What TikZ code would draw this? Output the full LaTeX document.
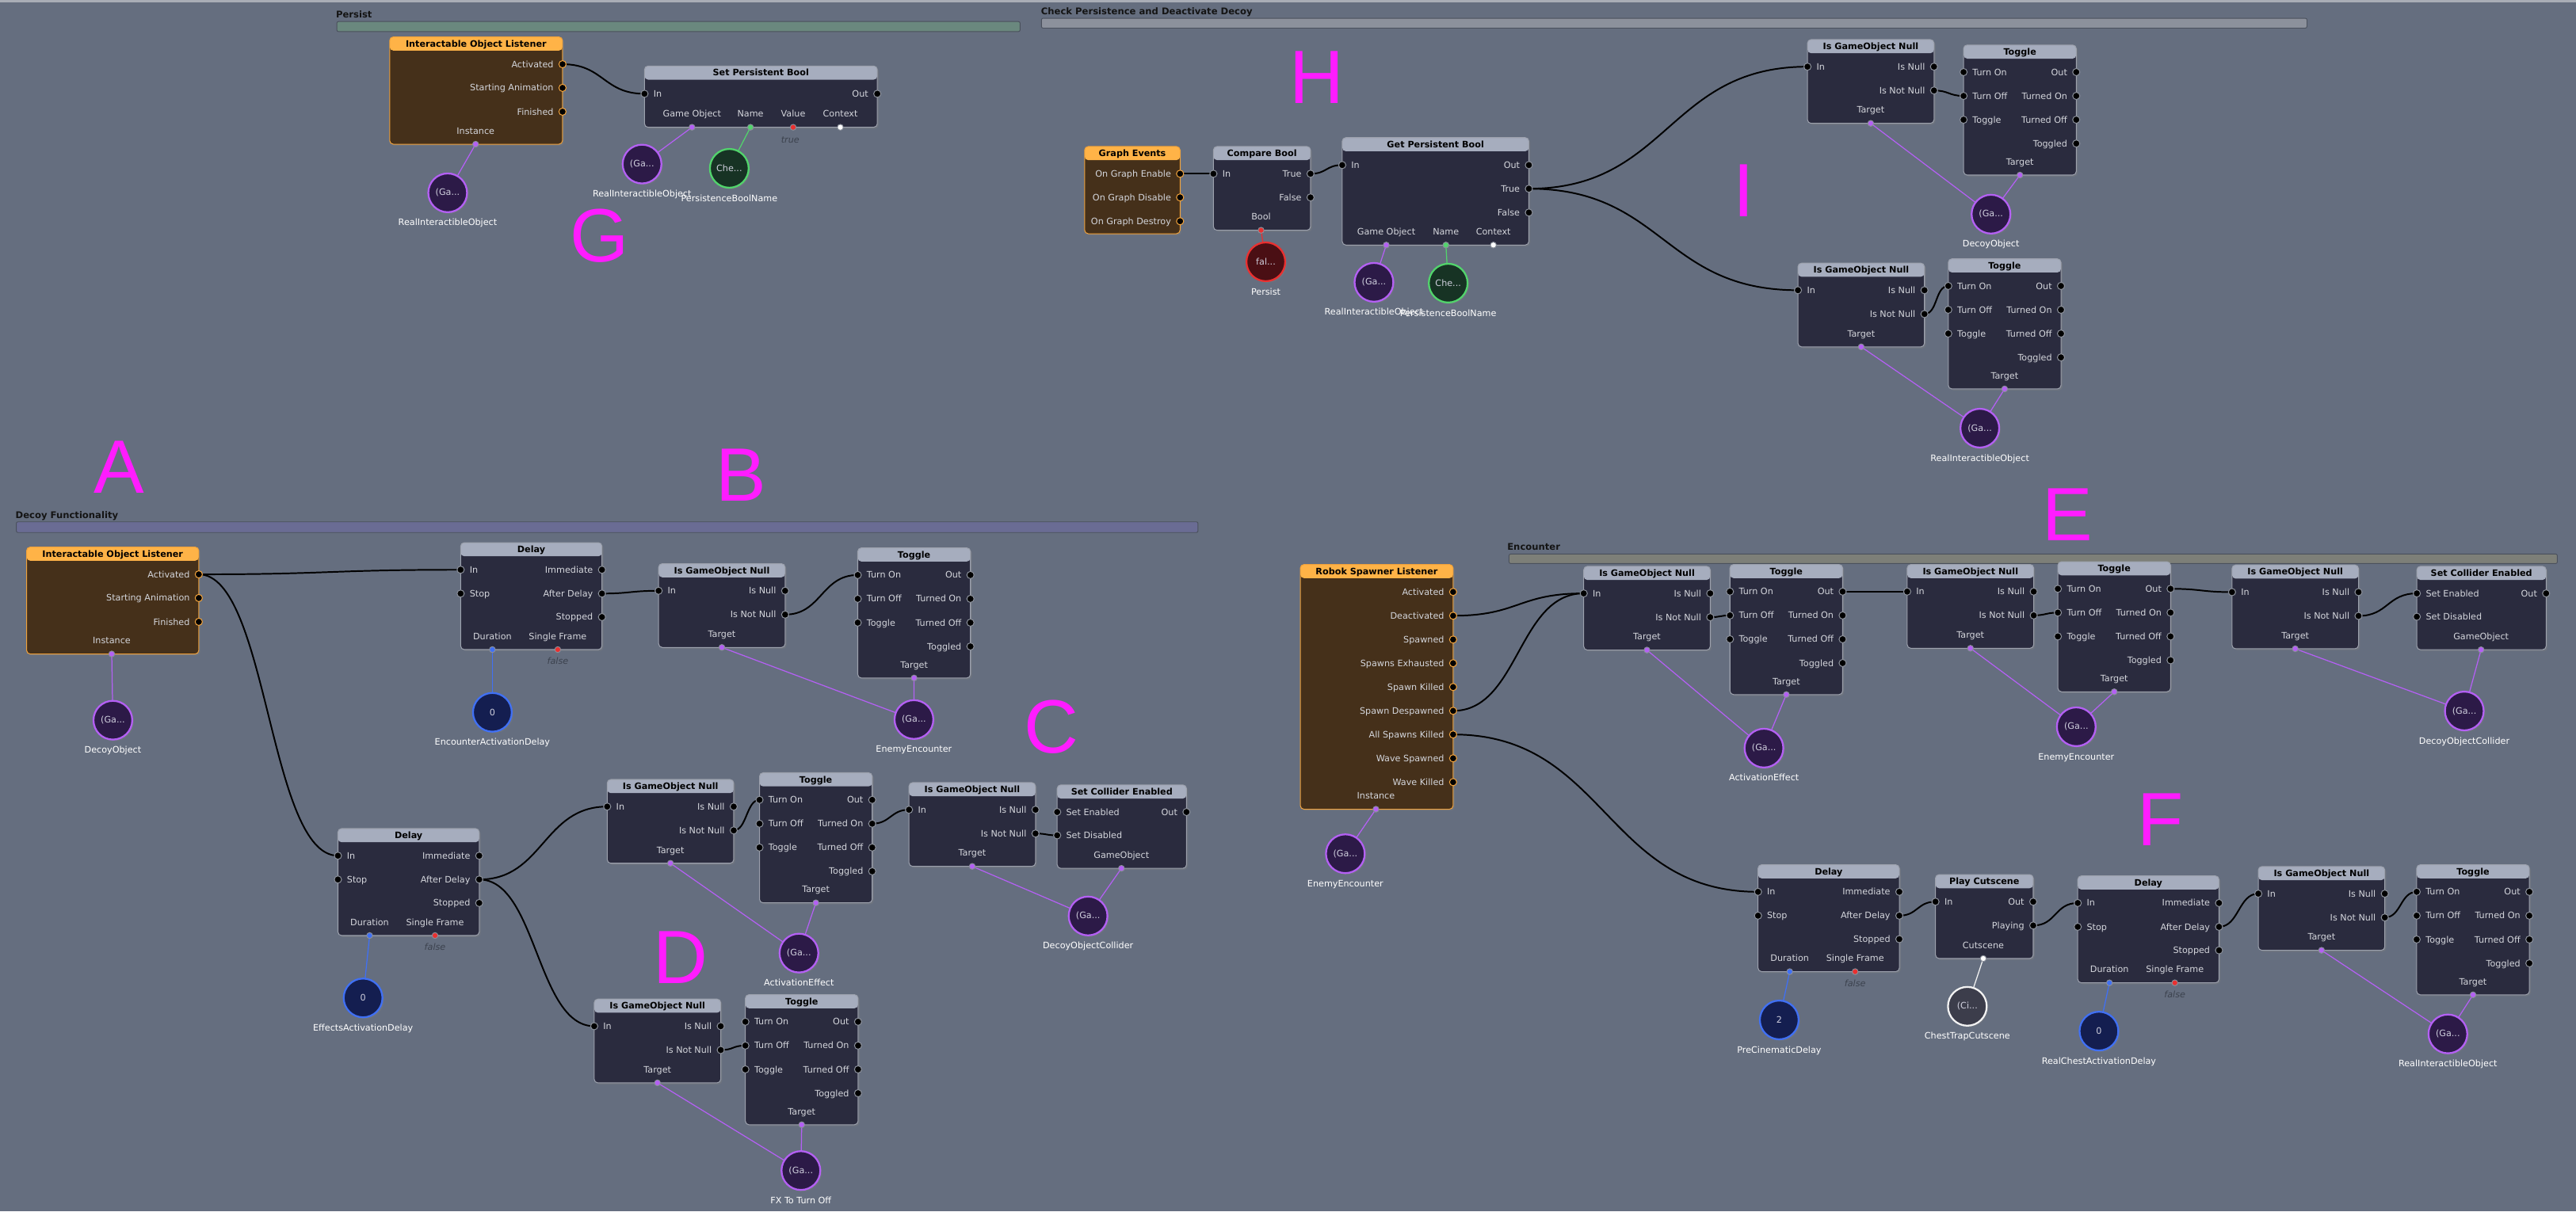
\documentclass[tikz,border=0pt]{standalone}
\usepackage{fontspec}
\setmainfont{DejaVu Sans}
\newfontfamily\magfont{Liberation Sans}
\usetikzlibrary{shadows}
\pgfdeclarelayer{back}
\pgfdeclarelayer{wires}
\pgfsetlayers{back,wires,main}
\definecolor{bgc}{HTML}{656E7F}
\definecolor{topc}{HTML}{A9ADB6}
\definecolor{hdr}{HTML}{A6ADBE}
\definecolor{body}{HTML}{2A2B3E}
\definecolor{boxln}{HTML}{9CA1AD}
\definecolor{evhdr}{HTML}{FFB347}
\definecolor{evbody}{HTML}{45301A}
\definecolor{evln}{HTML}{F0A23C}
\definecolor{ptext}{HTML}{D4D6DC}
\definecolor{portring}{HTML}{8A8F9A}
\definecolor{purp}{HTML}{B460F4}
\definecolor{purpf}{HTML}{2C1A47}
\definecolor{blu}{HTML}{4070F4}
\definecolor{bluf}{HTML}{141E50}
\definecolor{redc}{HTML}{EA3030}
\definecolor{redf}{HTML}{4A0F14}
\definecolor{grn}{HTML}{52D46C}
\definecolor{grnf}{HTML}{173324}
\definecolor{whc}{HTML}{F2F2F2}
\definecolor{whf}{HTML}{3C3D4B}
\definecolor{vtext}{HTML}{CFCFDD}
\definecolor{flsc}{HTML}{3C424E}
\definecolor{barP}{HTML}{6A887E}
\definecolor{barC}{HTML}{8C919C}
\definecolor{barD}{HTML}{6A6C94}
\definecolor{barE}{HTML}{7D7F78}
\definecolor{barln}{HTML}{4A505C}
\definecolor{mag}{HTML}{FF1CFF}
\newcommand\fs{\fontsize{5.4}{6.4}\selectfont}
\tikzset{
 boxbase/.style={anchor=north west, line width=0.5pt, rounded corners=2.2pt, inner sep=0pt, outer sep=0pt,
   drop shadow={shadow xshift=0.9pt, shadow yshift=-0.9pt, opacity=0.35}},
 gbox/.style={boxbase, draw=boxln, fill=body,
   path picture={\fill[hdr] (path picture bounding box.north west) rectangle ([yshift=-8.3pt]path picture bounding box.north east);}},
 ebox/.style={boxbase, draw=evln, fill=evbody,
   path picture={\fill[evhdr] (path picture bounding box.north west) rectangle ([yshift=-8.3pt]path picture bounding box.north east);}},
 ttl/.style={anchor=base, yshift=-6.1pt, font=\fs\bfseries, text=black, inner sep=0pt},
 plab/.style={font=\fs, text=ptext, inner sep=0pt, text height=3.9pt, text depth=0pt},
 port/.style={circle, fill=black, draw=portring, line width=0.5pt, minimum size=4.4pt, inner sep=0pt},
 eport/.style={port, draw=evln},
 dport/.style={circle, draw=portring, line width=0.45pt, minimum size=3.6pt, inner sep=0pt},
 var/.style={circle, minimum size=23.6pt, inner sep=0pt, line width=1.1pt, font=\fs, text=vtext,
   drop shadow={shadow xshift=0.9pt, shadow yshift=-0.9pt, opacity=0.35}},
 vp/.style={var, draw=purp, fill=purpf},
 vb/.style={var, draw=blu, fill=bluf},
 vr/.style={var, draw=redc, fill=redf},
 vg/.style={var, draw=grn, fill=grnf},
 vw/.style={var, draw=whc, fill=whf},
 vlab/.style={font=\fs, text=white, inner sep=0pt, text height=3.9pt, text depth=0pt},
 fls/.style={font=\fs\itshape, text=flsc, inner sep=0pt, text height=3.9pt, text depth=0pt},
 glab/.style={anchor=west, font=\fontsize{5.6}{6.6}\selectfont\bfseries, text=black!92, inner sep=0pt, text height=4pt, text depth=0pt},
 bar/.style={anchor=north west, draw=barln, line width=0.45pt, rounded corners=1pt, inner sep=0pt},
 letter/.style={anchor=base, font=\magfont\fontsize{46}{46}\selectfont, text=mag, inner sep=0pt},
 flow/.style={draw=black, line width=0.95pt},
 dw/.style={draw=#1, line width=0.6pt}
}
\newcommand\xGB[7]{\node[#1, minimum width=#5pt, minimum height=#6pt, label={[ttl]north:#7}] (#2) at (#3,#4) {};}
\newcommand\xPL[4]{\node[port] (#1) at (#2,#3) {}; \node[plab,anchor=west] (#1-t) at (#2+5.3,#3) {#4};}
\newcommand\xPR[4]{\node[port] (#1) at (#2,#3) {}; \node[plab,anchor=east] (#1-t) at (#2-5.3,#3) {#4};}
\newcommand\xPE[4]{\node[eport] (#1) at (#2,#3) {}; \node[plab,anchor=east] (#1-t) at (#2-5.3,#3) {#4};}
\newcommand\xPB[5]{\node[dport,fill=#5] (#1) at (#2,#3) {}; \node[plab] (#1-t) at (#2,#3-8.1) {#4};}
\newcommand\xVR[6]{\node[#2] (#1) at (#3,#4) {#5}; \node[vlab] (#1-t) at (#3,#4+18.1) {#6};}
\newcommand\xIsNull[3]{%
 \xGB{gbox}{#1}{#2}{#3}{77}{51}{Is GameObject Null}
 \xPL{#1-in}{#2}{#3+16.5}{In}
 \xPR{#1-null}{#2+77}{#3+16.5}{Is Null}
 \xPR{#1-nn}{#2+77}{#3+31}{Is Not Null}
 \xPB{#1-tgt}{#2+38.5}{#3+51}{Target}{purp}}
\newcommand\xToggle[3]{%
 \xGB{gbox}{#1}{#2}{#3}{68.6}{79.2}{Toggle}
 \xPL{#1-on}{#2}{#3+16.5}{Turn On}
 \xPL{#1-off}{#2}{#3+31}{Turn Off}
 \xPL{#1-tog}{#2}{#3+45.5}{Toggle}
 \xPR{#1-out}{#2+68.6}{#3+16.5}{Out}
 \xPR{#1-ton}{#2+68.6}{#3+31}{Turned On}
 \xPR{#1-toff}{#2+68.6}{#3+45.5}{Turned Off}
 \xPR{#1-tgd}{#2+68.6}{#3+60}{Toggled}
 \xPB{#1-tgt}{#2+34.3}{#3+79.2}{Target}{purp}}
\newcommand\xDelay[3]{%
 \xGB{gbox}{#1}{#2}{#3}{86}{65.1}{Delay}
 \xPL{#1-in}{#2}{#3+16.5}{In}
 \xPL{#1-stop}{#2}{#3+31}{Stop}
 \xPR{#1-imm}{#2+86}{#3+16.5}{Immediate}
 \xPR{#1-ad}{#2+86}{#3+31}{After Delay}
 \xPR{#1-stp}{#2+86}{#3+45.3}{Stopped}
 \xPB{#1-dur}{#2+19.3}{#3+65.1}{Duration}{blu}
 \xPB{#1-sf}{#2+59.1}{#3+65.1}{Single Frame}{redc}
 \node[fls] (#1-f) at (#2+59.1,#3+72.3) {false};}
\newcommand\xSCE[3]{%
 \xGB{gbox}{#1}{#2}{#3}{78.7}{50.8}{Set Collider Enabled}
 \xPL{#1-en}{#2}{#3+16.5}{Set Enabled}
 \xPL{#1-dis}{#2}{#3+30.7}{Set Disabled}
 \xPR{#1-out}{#2+78.7}{#3+16.5}{Out}
 \xPB{#1-go}{#2+39.1}{#3+50.8}{GameObject}{purp}}
\begin{document}
\begin{tikzpicture}[x=1pt,y=-1pt]
\begin{pgfonlayer}{back}
\fill[bgc] (0,0) rectangle (1568,737.5);
\fill[topc] (0,0) rectangle (1568,1.3);
\end{pgfonlayer}
\useasboundingbox (0,0) rectangle (1568,737.5);

% ---------------- group frames
\node[glab] (gl1) at (204.3,8.8) {Persist};
\node[bar, fill=barP, minimum width=415.9pt, minimum height=6.1pt] (gb1) at (204.8,12.9) {};
\node[glab] (gl2) at (633.5,7.1) {Check Persistence and Deactivate Decoy};
\node[bar, fill=barC, minimum width=770.3pt, minimum height=6pt] (gb2) at (633.7,10.9) {};
\node[glab] (gl3) at (9.3,313.8) {Decoy Functionality};
\node[bar, fill=barD, minimum width=719.3pt, minimum height=6.5pt] (gb3) at (9.7,317.5) {};
\node[glab] (gl4) at (917.3,333.1) {Encounter};
\node[bar, fill=barE, minimum width=638.1pt, minimum height=5.8pt] (gb4) at (918.3,337.1) {};

% ---------------- letters
\node[letter] (lA) at (72.5,300) {A};
\node[letter] (lB) at (451,305) {B};
\node[letter] (lC) at (640,458.5) {C};
\node[letter] (lD) at (414.5,598.6) {D};
\node[letter] (lE) at (1258.5,329) {E};
\node[letter] (lF) at (1315,515) {F};
\node[letter] (lG) at (365,159.5) {G};
\node[letter] (lH) at (801.5,63) {H};
\node[letter] (lI) at (1061.5,131.8) {I};

% ---------------- Persist
\xGB{ebox}{piol}{237.2}{22.5}{105.2}{65.3}{Interactable Object Listener}
\xPE{piol-act}{342.4}{39.1}{Activated}
\xPE{piol-sa}{342.4}{53.5}{Starting Animation}
\xPE{piol-fin}{342.4}{68.0}{Finished}
\xPB{piol-inst}{289.5}{87.8}{Instance}{purp}
\xGB{gbox}{spb}{392.3}{40.2}{141.7}{37.3}{Set Persistent Bool}
\xPL{spb-in}{392.3}{57.1}{In}
\xPR{spb-out}{534}{57.1}{Out}
\xPB{spb-go}{421.2}{77.5}{Game Object}{purp}
\xPB{spb-name}{456.8}{77.5}{Name}{grn}
\xPB{spb-val}{482.8}{77.5}{Value}{redc}
\xPB{spb-ctx}{511.5}{77.5}{Context}{white}
\node[fls] (spb-true) at (481,84.9) {true};
\xVR{pv1}{vp}{272.5}{117.4}{(Ga...}{RealInteractibleObject}
\xVR{pv2}{vp}{390.8}{99.9}{(Ga...}{RealInteractibleObject}
\xVR{pv3}{vg}{443.9}{102.5}{Che...}{PersistenceBoolName}

% ---------------- Check persistence
\xGB{ebox}{ge}{660.2}{89.2}{58.1}{53.1}{Graph Events}
\xPE{ge-en}{718.3}{105.8}{On Graph Enable}
\xPE{ge-dis}{718.3}{120.2}{On Graph Disable}
\xPE{ge-des}{718.3}{134.7}{On Graph Destroy}
\xGB{gbox}{cb}{738.6}{89.2}{59.1}{51}{Compare Bool}
\xPL{cb-in}{738.6}{105.8}{In}
\xPR{cb-true}{797.7}{105.8}{True}
\xPR{cb-false}{797.7}{120.2}{False}
\xPB{cb-bool}{767.6}{140.2}{Bool}{redc}
\xVR{cv1}{vr}{770.5}{159.4}{fal...}{Persist}
\xGB{gbox}{gpb}{817}{83.8}{113.6}{65.4}{Get Persistent Bool}
\xPL{gpb-in}{817}{100.5}{In}
\xPR{gpb-out}{930.6}{100.5}{Out}
\xPR{gpb-true}{930.6}{114.9}{True}
\xPR{gpb-false}{930.6}{129.4}{False}
\xPB{gpb-go}{843.8}{149.2}{Game Object}{purp}
\xPB{gpb-name}{880.1}{149.2}{Name}{grn}
\xPB{gpb-ctx}{909}{149.2}{Context}{white}
\xVR{cv2}{vp}{836.3}{171.9}{(Ga...}{RealInteractibleObject}
\xVR{cv3}{vg}{881.5}{172.4}{Che...}{PersistenceBoolName}
\xIsNull{i1}{1100.2}{24.1}
\xToggle{t1}{1195.2}{27.4}
\xVR{vdecoy}{vp}{1211.9}{130.4}{(Ga...}{DecoyObject}
\xIsNull{i2}{1094.4}{160.2}
\xToggle{t2}{1185.9}{157.6}
\xVR{vreal}{vp}{1205.1}{260.7}{(Ga...}{RealInteractibleObject}

% ---------------- Decoy functionality
\xGB{ebox}{diol}{16.2}{333.1}{104.8}{65.1}{Interactable Object Listener}
\xPE{diol-act}{121}{349.7}{Activated}
\xPE{diol-sa}{121}{364.1}{Starting Animation}
\xPE{diol-fin}{121}{378.6}{Finished}
\xPB{diol-inst}{68}{398.2}{Instance}{purp}
\xVR{dv1}{vp}{68.7}{438.5}{(Ga...}{DecoyObject}
\xDelay{d1}{280.4}{330.4}
\xVR{vead}{vb}{299.7}{433.7}{0}{EncounterActivationDelay}
\xIsNull{b1}{400.9}{343.2}
\xToggle{tb}{522.1}{333.6}
\xVR{vee}{vp}{556.3}{438.1}{(Ga...}{EnemyEncounter}
\xDelay{d2}{205.7}{504.5}
\xVR{veffd}{vb}{221}{607.6}{0}{EffectsActivationDelay}
\xIsNull{c1}{369.6}{474.6}
\xToggle{tc}{462.3}{470.5}
\xVR{vae}{vp}{486.3}{580.3}{(Ga...}{ActivationEffect}
\xIsNull{c2}{553.3}{476.5}
\xSCE{sc}{643.5}{477.9}
\xVR{vdoc}{vp}{662.3}{557.7}{(Ga...}{DecoyObjectCollider}
\xIsNull{dn}{361.7}{608.3}
\xToggle{td}{453.7}{605.6}
\xVR{vfx}{vp}{487.5}{712.7}{(Ga...}{FX To Turn Off}

% ---------------- Encounter
\xGB{ebox}{rsl}{791.5}{343.7}{93}{149}{Robok Spawner Listener}
\xPE{rsl-act}{884.5}{360.4}{Activated}
\xPE{rsl-deact}{884.5}{374.9}{Deactivated}
\xPE{rsl-sp}{884.5}{389.4}{Spawned}
\xPE{rsl-se}{884.5}{403.8}{Spawns Exhausted}
\xPE{rsl-sk}{884.5}{418.3}{Spawn Killed}
\xPE{rsl-desp}{884.5}{432.8}{Spawn Despawned}
\xPE{rsl-ask}{884.5}{447.2}{All Spawns Killed}
\xPE{rsl-ws}{884.5}{461.7}{Wave Spawned}
\xPE{rsl-wk}{884.5}{476.2}{Wave Killed}
\xPB{rsl-inst}{837.5}{492.7}{Instance}{purp}
\xVR{vee2}{vp}{818.9}{519.8}{(Ga...}{EnemyEncounter}
\xIsNull{e1}{964}{344.8}
\xToggle{te1}{1053}{343.7}
\xVR{vae2}{vp}{1073.7}{455.5}{(Ga...}{ActivationEffect}
\xIsNull{e2}{1160.9}{343.7}
\xToggle{te2}{1252.6}{342}
\xVR{vee3}{vp}{1263.8}{442.5}{(Ga...}{EnemyEncounter}
\xIsNull{e3}{1358.6}{344}
\xSCE{se}{1471.1}{344.8}
\xVR{vdoc2}{vp}{1500}{432.9}{(Ga...}{DecoyObjectCollider}
\xDelay{f1}{1070.1}{526.5}
\xVR{vpre}{vb}{1083}{621}{2}{PreCinematicDelay}
\xGB{gbox}{pc}{1178.1}{532.5}{59.5}{51.1}{Play Cutscene}
\xPL{pc-in}{1178.1}{549}{In}
\xPR{pc-out}{1237.6}{549}{Out}
\xPR{pc-play}{1237.6}{563.5}{Playing}
\xPB{pc-cs}{1207.2}{583.6}{Cutscene}{white}
\xVR{vchest}{vw}{1197.5}{612.7}{(Ci...}{ChestTrapCutscene}
\xDelay{f2}{1264.7}{533.3}
\xVR{vrcad}{vb}{1277.6}{627.8}{0}{RealChestActivationDelay}
\xIsNull{fi}{1374.6}{527.6}
\xToggle{tf}{1471}{526.5}
\xVR{vreal2}{vp}{1490}{629.5}{(Ga...}{RealInteractibleObject}

% ---------------- wires
\begin{pgfonlayer}{wires}
% flow
\draw[flow] (piol-act.center) .. controls +(25,0) and +(-25,0) .. (spb-in.center);
\draw[flow] (ge-en.center) -- (cb-in.center);
\draw[flow] (cb-true.center) .. controls +(10,0) and +(-10,0) .. (gpb-in.center);
\draw[flow] (gpb-true.center) .. controls +(85,0) and +(-85,0) .. (i1-in.center);
\draw[flow] (gpb-true.center) .. controls +(82,0) and +(-82,0) .. (i2-in.center);
\draw[flow] (i1-nn.center) .. controls +(9,0) and +(-9,0) .. (t1-off.center);
\draw[flow] (i2-nn.center) .. controls +(8,0) and +(-8,0) .. (t2-on.center);
\draw[flow] (diol-act.center) .. controls +(80,0) and +(-80,0) .. (d1-in.center);
\draw[flow] (diol-act.center) .. controls +(42,0) and +(-42,0) .. (d2-in.center);
\draw[flow] (d1-ad.center) .. controls +(17,0) and +(-17,0) .. (b1-in.center);
\draw[flow] (b1-nn.center) .. controls +(22,0) and +(-22,0) .. (tb-on.center);
\draw[flow] (d2-ad.center) .. controls +(39,0) and +(-39,0) .. (c1-in.center);
\draw[flow] (d2-ad.center) .. controls +(35,0) and +(-35,0) .. (dn-in.center);
\draw[flow] (c1-nn.center) .. controls +(8,0) and +(-8,0) .. (tc-on.center);
\draw[flow] (tc-ton.center) .. controls +(11,0) and +(-11,0) .. (c2-in.center);
\draw[flow] (c2-nn.center) .. controls +(7,0) and +(-7,0) .. (sc-dis.center);
\draw[flow] (dn-nn.center) .. controls +(8,0) and +(-8,0) .. (td-off.center);
\draw[flow] (rsl-deact.center) .. controls +(40,0) and +(-40,0) .. (e1-in.center);
\draw[flow] (rsl-desp.center) .. controls +(40,0) and +(-40,0) .. (e1-in.center);
\draw[flow] (rsl-ask.center) .. controls +(93,0) and +(-93,0) .. (f1-in.center);
\draw[flow] (e1-nn.center) .. controls +(6,0) and +(-6,0) .. (te1-off.center);
\draw[flow] (te1-out.center) -- (e2-in.center);
\draw[flow] (e2-nn.center) .. controls +(7,0) and +(-7,0) .. (te2-off.center);
\draw[flow] (te2-out.center) .. controls +(19,0) and +(-19,0) .. (e3-in.center);
\draw[flow] (e3-nn.center) .. controls +(18,0) and +(-18,0) .. (se-en.center);
\draw[flow] (f1-ad.center) .. controls +(11,0) and +(-11,0) .. (pc-in.center);
\draw[flow] (pc-play.center) .. controls +(14,0) and +(-14,0) .. (f2-in.center);
\draw[flow] (f2-ad.center) .. controls +(12,0) and +(-12,0) .. (fi-in.center);
\draw[flow] (fi-nn.center) .. controls +(10,0) and +(-10,0) .. (tf-on.center);
% data
\draw[dw=purp] (piol-inst.center) -- (pv1.center);
\draw[dw=purp] (spb-go.center) -- (pv2.center);
\draw[dw=grn] (spb-name.center) -- (pv3.center);
\draw[dw=redc] (cb-bool.center) -- (cv1.center);
\draw[dw=purp] (gpb-go.center) -- (cv2.center);
\draw[dw=grn] (gpb-name.center) -- (cv3.center);
\draw[dw=purp] (i1-tgt.center) -- (vdecoy.center);
\draw[dw=purp] (t1-tgt.center) -- (vdecoy.center);
\draw[dw=purp] (i2-tgt.center) -- (vreal.center);
\draw[dw=purp] (t2-tgt.center) -- (vreal.center);
\draw[dw=purp] (diol-inst.center) -- (dv1.center);
\draw[dw=blu] (d1-dur.center) -- (vead.center);
\draw[dw=purp] (b1-tgt.center) -- (vee.center);
\draw[dw=purp] (tb-tgt.center) -- (vee.center);
\draw[dw=blu] (d2-dur.center) -- (veffd.center);
\draw[dw=purp] (c1-tgt.center) -- (vae.center);
\draw[dw=purp] (tc-tgt.center) -- (vae.center);
\draw[dw=purp] (c2-tgt.center) -- (vdoc.center);
\draw[dw=purp] (sc-go.center) -- (vdoc.center);
\draw[dw=purp] (dn-tgt.center) -- (vfx.center);
\draw[dw=purp] (td-tgt.center) -- (vfx.center);
\draw[dw=purp] (rsl-inst.center) -- (vee2.center);
\draw[dw=purp] (e1-tgt.center) -- (vae2.center);
\draw[dw=purp] (te1-tgt.center) -- (vae2.center);
\draw[dw=purp] (e2-tgt.center) -- (vee3.center);
\draw[dw=purp] (te2-tgt.center) -- (vee3.center);
\draw[dw=purp] (e3-tgt.center) -- (vdoc2.center);
\draw[dw=purp] (se-go.center) -- (vdoc2.center);
\draw[dw=blu] (f1-dur.center) -- (vpre.center);
\draw[dw=whc] (pc-cs.center) -- (vchest.center);
\draw[dw=blu] (f2-dur.center) -- (vrcad.center);
\draw[dw=purp] (fi-tgt.center) -- (vreal2.center);
\draw[dw=purp] (tf-tgt.center) -- (vreal2.center);
\end{pgfonlayer}
\end{tikzpicture}
\end{document}
